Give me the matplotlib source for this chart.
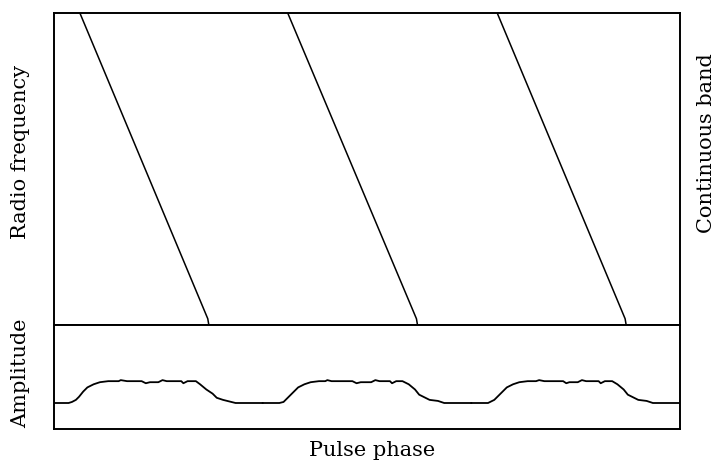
import matplotlib
matplotlib.use("Agg")
import matplotlib.pyplot as plt

# ---- data (phase in pulse periods, frequency / amplitude normalised 0..1) ----
sweep1_phase = [0.124, 0.737, 0.742]
sweep2_phase = [1.120, 1.737, 1.742]
sweep3_phase = [2.124, 2.737, 2.742]
sweep_freq = [1.0, 0.02, 0.0]

pulse1_phase = [0.00, 0.07, 0.086, 0.105, 0.12, 0.14, 0.16, 0.19, 0.22, 0.26, 0.31, 0.32, 0.35,
                0.42, 0.44, 0.46, 0.50, 0.52, 0.54, 0.61, 0.62, 0.64, 0.68, 0.70, 0.73, 0.76,
                0.78, 0.81, 0.85, 0.87, 1.00]
pulse1_amp = [0.25, 0.25, 0.26, 0.28, 0.31, 0.36, 0.40, 0.43, 0.45, 0.46, 0.46, 0.47, 0.46,
              0.46, 0.44, 0.45, 0.45, 0.47, 0.46, 0.46, 0.44, 0.46, 0.46, 0.43, 0.38, 0.34,
              0.30, 0.28, 0.26, 0.25, 0.25]

pulse2_phase = [1.00, 1.08, 1.10, 1.11, 1.13, 1.15, 1.17, 1.20, 1.23, 1.27, 1.30, 1.31, 1.33,
                1.43, 1.45, 1.47, 1.52, 1.54, 1.56, 1.61, 1.62, 1.64, 1.67, 1.70, 1.73, 1.75,
                1.78, 1.80, 1.84, 1.87, 2.00]
pulse2_amp = [0.25, 0.25, 0.26, 0.28, 0.32, 0.36, 0.40, 0.43, 0.45, 0.46, 0.46, 0.47, 0.46,
              0.46, 0.44, 0.45, 0.45, 0.47, 0.46, 0.46, 0.44, 0.46, 0.46, 0.43, 0.38, 0.33,
              0.30, 0.28, 0.27, 0.25, 0.25]

pulse3_phase = [2.00, 2.08, 2.09, 2.11, 2.13, 2.15, 2.17, 2.20, 2.23, 2.27, 2.31, 2.325, 2.35,
                2.44, 2.455, 2.47, 2.51, 2.53, 2.55, 2.61, 2.62, 2.64, 2.675, 2.70, 2.73, 2.75,
                2.78, 2.80, 2.84, 2.87, 3.00]
pulse3_amp = [0.25, 0.25, 0.26, 0.28, 0.32, 0.36, 0.40, 0.43, 0.45, 0.46, 0.46, 0.47, 0.46,
              0.46, 0.44, 0.45, 0.45, 0.47, 0.46, 0.46, 0.44, 0.46, 0.46, 0.43, 0.38, 0.33,
              0.30, 0.28, 0.27, 0.25, 0.25]

FONT = "DejaVu Serif"
FS = 15

fig = plt.figure(figsize=(7.19, 4.63), dpi=100)
W, H = 719, 463
left = 54 / W
width = 626 / W
ax_top = fig.add_axes([left, (H - 325) / H, width, (325 - 13) / H])
ax_bot = fig.add_axes([left, (H - 429) / H, width, (429 - 325) / H])

for ph in (sweep1_phase, sweep2_phase, sweep3_phase):
    ax_top.plot(ph, sweep_freq, color="black", lw=1.1)

for ph, amp in ((pulse1_phase, pulse1_amp), (pulse2_phase, pulse2_amp), (pulse3_phase, pulse3_amp)):
    ax_bot.plot(ph, amp, color="black", lw=1.3)

for ax in (ax_top, ax_bot):
    ax.set_xlim(0, 3)
    ax.set_ylim(0, 1)
    ax.set_xticks([])
    ax.set_yticks([])
    for s in ax.spines.values():
        s.set_linewidth(1.4)
        s.set_color("black")

fig.text(21 / W, 1 - 152 / H, "Radio frequency", rotation=90, ha="center", va="center",
         family=FONT, fontsize=FS)
fig.text(21 / W, 1 - 373 / H, "Amplitude", rotation=90, ha="center", va="center",
         family=FONT, fontsize=FS)
fig.text(706 / W, 1 - 143 / H, "Continuous band", rotation=90, ha="center", va="center",
         family=FONT, fontsize=FS)
fig.text(372 / W, 1 - 450 / H, "Pulse phase", ha="center", va="center",
         family=FONT, fontsize=FS)

fig.savefig("out.png", dpi=100)
